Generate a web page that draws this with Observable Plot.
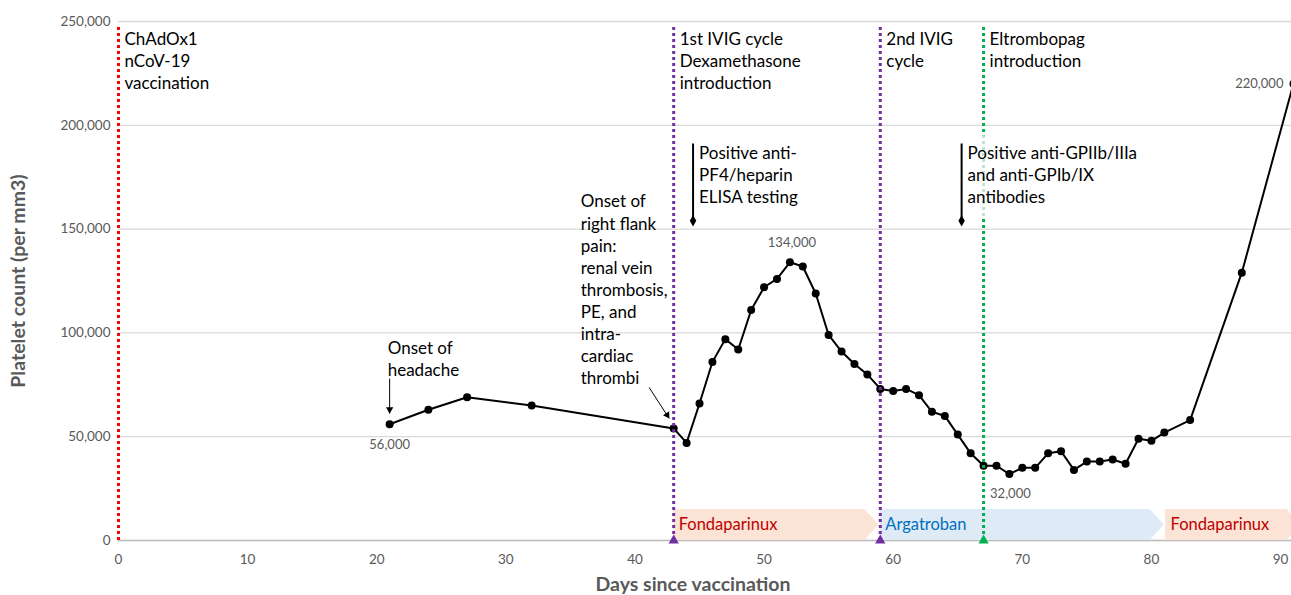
<!DOCTYPE html>
<html>
<head>
<meta charset="utf-8">
<script src="https://cdn.jsdelivr.net/npm/d3@7"></script>
<script src="https://cdn.jsdelivr.net/npm/@observablehq/plot@0.6"></script>
<style>
  html, body { margin: 0; padding: 0; background: #ffffff; }
  #chart svg { display: block; }
</style>
</head>
<body>
<div id="chart"></div>
<script>
// ---------------- data ----------------
const days = [21, 24, 27, 32, 43, 44, 45, 46, 47, 48, 49, 50, 51, 52, 53, 54, 55, 56, 57, 58, 59, 60, 61, 62, 63, 64, 65, 66, 67, 68, 69, 70, 71, 72, 73, 74, 75, 76, 77, 78, 79, 80, 81, 83, 87, 91];
const platelets = [56000, 63000, 69000, 65000, 54000, 47000, 66000, 86000, 97000, 92000, 111000, 122000, 126000, 134000, 132000, 119000, 99000, 91000, 85000, 80000, 73000, 72000, 73000, 70000, 62000, 60000, 51000, 42000, 36000, 36000, 32000, 35000, 35000, 42000, 43000, 34000, 38000, 38000, 39000, 37000, 49000, 48000, 52000, 58000, 129000, 220000];

const xTicks = [0, 10, 20, 30, 40, 50, 60, 70, 80, 90];
const yTicks = [0, 50000, 100000, 150000, 200000, 250000];

// vertical event lines
const eventDays = [0, 43, 59, 67];
const eventKinds = ["vaccine", "ivig", "ivig", "tpo"];
const eventLabels = [
  "ChAdOx1\nnCoV-19\nvaccination",
  "1st IVIG cycle\nDexamethasone\nintroduction",
  "2nd IVIG\ncycle",
  "Eltrombopag\nintroduction"
];

// laboratory test annotations (diamond-ended lines)
const testDays = [44.5, 65.3];
const testLabels = [
  "Positive anti-\nPF4/heparin\nELISA testing",
  "Positive anti-GPIIb/IIIa\nand anti-GPIb/IX\nantibodies"
];
const testRange = [154000, 191000];

// clinical onset annotations (arrows)
const onsetLabels = [
  "Onset of\nheadache",
  "Onset of\nright flank\npain:\nrenal vein\nthrombosis,\nPE, and\nintra-\ncardiac\nthrombi"
];
const onsetTextDay = [20.85, 35.8];
const onsetTextCount = [97500, 168000];
const onsetArrowFromDay = [21, 41.1];
const onsetArrowFromCount = [78000, 73700];
const onsetArrowToDay = [21, 42.65];
const onsetArrowToCount = [61200, 58800];

// value call-outs
const calloutDays = [21, 52, 69, 91];

// anticoagulation bands
const therapyNames = ["Fondaparinux", "Argatroban", "Fondaparinux"];
const therapyStart = [43, 59, 81.1];
const therapyEnd = [58.9, 81, 91.6];

// ---------------- build ----------------
const points = days.map((d, i) => ({day: d, count: platelets[i]}));
const kindColor = {vaccine: "#ff0000", ivig: "#7030a0", tpo: "#00b050"};
const bandFill = {Fondaparinux: "#fbe4d5", Argatroban: "#deeaf6"};
const bandText = {Fondaparinux: "#c00000", Argatroban: "#0070c0"};
const bandHeight = 14900, tip = 1.1;

const bandPts = [];
therapyNames.forEach((name, i) => {
  const s = therapyStart[i], e = therapyEnd[i];
  bandPts.push({i, x: s, lo: 0, hi: bandHeight, fill: bandFill[name]});
  bandPts.push({i, x: e - tip, lo: 0, hi: bandHeight, fill: bandFill[name]});
  bandPts.push({i, x: e, lo: bandHeight / 2, hi: bandHeight / 2, fill: bandFill[name]});
});
const bands = therapyNames.map((name, i) => ({name, start: therapyStart[i], color: bandText[name]}));

const events = eventDays.map((d, i) => ({day: d, color: kindColor[eventKinds[i]], label: eventLabels[i]}));
const tests = testDays.map((d, i) => ({day: d, label: testLabels[i]}));
const onsets = onsetLabels.map((t, i) => ({
  label: t, tx: onsetTextDay[i], ty: onsetTextCount[i],
  x1: onsetArrowFromDay[i], y1: onsetArrowFromCount[i],
  x2: onsetArrowToDay[i], y2: onsetArrowToCount[i]
}));
const callouts = calloutDays.map(d => ({day: d, count: platelets[days.indexOf(d)]}));
const fmt = d3.format(",");

const annFont = 17;
const valueFont = 13;
const grey = "#595959";

const chart = Plot.plot({
  width: 1291,
  height: 595,
  marginLeft: 118,
  marginRight: 0,
  marginTop: 21,
  marginBottom: 55,
  x: {domain: [0, 90.85]},
  y: {domain: [0, 250000]},
  color: {type: "identity"},
  style: {fontFamily: "Lato, 'Open Sans', sans-serif", background: "#ffffff", overflow: "visible"},
  marks: [
    Plot.gridY(yTicks, {stroke: "#d9d9d9", strokeOpacity: 1, strokeWidth: 1.3}),
    Plot.ruleY([0], {stroke: "#bfbfbf", strokeWidth: 1.5}),

    // therapy bands
    Plot.areaY(bandPts, {x: "x", y1: "lo", y2: "hi", z: "i", fill: "fill", clip: true}),
    Plot.text(bands, {x: "start", y: bandHeight / 2, text: "name", fill: "color",
      textAnchor: "start", dx: 5, fontSize: 16.5, lineAnchor: "middle"}),

    // data
    Plot.line(points, {x: "day", y: "count", stroke: "#000", strokeWidth: 2}),
    Plot.dot(points, {x: "day", y: "count", r: 4, fill: "#000"}),

    // event dotted lines
    Plot.ruleX(events, {x: "day", y1: 0, y2: 247500, stroke: "color", strokeWidth: 3, strokeDasharray: "3,3"}),

    // semi-transparent text box over the eltrombopag line
    Plot.rect([tests[1]], {x1: d => d.day + 0.3, x2: d => d.day + 14, y1: testRange[0] + 1500, y2: testRange[1] + 4000,
      fill: "#ffffff", fillOpacity: 0.72}),

    // lab test markers
    Plot.ruleX(tests, {x: "day", y1: testRange[0], y2: testRange[1], stroke: "#000", strokeWidth: 2}),
    Plot.dot(tests, {x: "day", y: testRange[0], symbol: "diamond", r: 3.4, fill: "#000"}),
    Plot.text(tests, {x: "day", y: testRange[1], text: "label", textAnchor: "start", lineAnchor: "top",
      dx: 6, dy: -1, fontSize: annFont, lineHeight: 1.3, fill: "#000"}),

    // event labels
    Plot.text(events, {x: "day", frameAnchor: "top", text: "label", textAnchor: "start", lineAnchor: "top",
      dx: 6, dy: 8, fontSize: annFont, lineHeight: 1.3, fill: "#000"}),

    // onset arrows & labels
    Plot.link(onsets, {x1: "x1", y1: "y1", x2: "x2", y2: "y2", stroke: "#000", strokeWidth: 1}),
    Plot.dot([onsets[0]], {x: "x2", y: "y2", symbol: "triangle", r: 2.7, rotate: 180, dy: -4, fill: "#000"}),
    Plot.dot([onsets[1]], {x: "x2", y: "y2", symbol: "triangle", r: 2.7, rotate: 148, dx: -2, dy: -3.4, fill: "#000"}),
    Plot.text(onsets, {x: "tx", y: "ty", text: "label", textAnchor: "start", lineAnchor: "top",
      fontSize: annFont, lineHeight: 1.3, fill: "#000"}),

    // value callouts
    Plot.text([callouts[0]], {x: "day", y: "count", text: d => fmt(d.count), dy: 21, fontSize: valueFont, fill: grey}),
    Plot.text([callouts[1]], {x: "day", y: "count", text: d => fmt(d.count), dy: -19, dx: 2, fontSize: valueFont, fill: grey}),
    Plot.text([callouts[2]], {x: "day", y: "count", text: d => fmt(d.count), dy: 20, dx: 1, fontSize: valueFont, fill: grey}),
    Plot.text([callouts[3]], {x: "day", y: "count", text: d => fmt(d.count), dx: -10, textAnchor: "end", fontSize: valueFont, fill: grey}),

    // triangles on the axis
    Plot.dot(events.slice(1), {x: "day", y: 0, symbol: "triangle", r: 3.8, fill: "color"}),

    // axes
    Plot.axisX(xTicks, {tickSize: 0, tickPadding: 14, fontSize: 13.5, fill: grey, label: null}),
    Plot.axisY(yTicks, {tickSize: 0, tickPadding: 8, fontSize: 13.5, fill: grey, tickFormat: fmt, label: null}),
    Plot.text(["Days since vaccination"], {frameAnchor: "bottom", dy: 44, dx: -12, lineAnchor: "middle", textAnchor: "middle",
      fontSize: 19.5, fontWeight: "bold", fill: grey}),
    Plot.text(["Platelet count (per mm3)"], {frameAnchor: "left", dx: -100, rotate: -90, lineAnchor: "middle", textAnchor: "middle",
      fontSize: 19.5, fontWeight: "bold", fill: grey})
  ]
});
document.getElementById("chart").appendChild(chart);
</script>
</body>
</html>
